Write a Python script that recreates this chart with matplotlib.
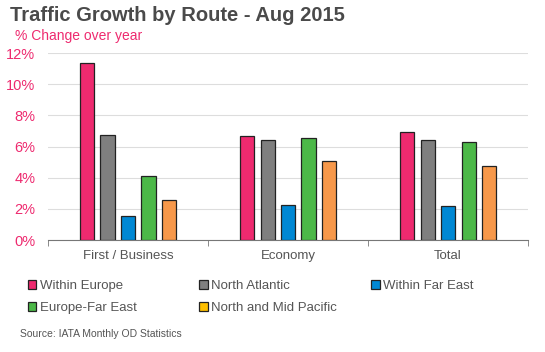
import numpy as np
import matplotlib.pyplot as plt
from matplotlib.patches import Patch
from matplotlib.ticker import FuncFormatter

plt.rcParams['font.family'] = ['Liberation Sans', 'DejaVu Sans']

categories = ['First / Business', 'Economy', 'Total']
routes = ['Within Europe', 'North Atlantic', 'Within Far East',
          'Europe-Far East', 'North and Mid Pacific']
growth = {
    'Within Europe':         [11.35, 6.70, 6.95],
    'North Atlantic':        [6.75, 6.40, 6.45],
    'Within Far East':       [1.55, 2.25, 2.20],
    'Europe-Far East':       [4.10, 6.55, 6.30],
    'North and Mid Pacific': [2.60, 5.05, 4.75],
}
bar_colors = ['#EE2A6F', '#7F7F7F', '#0088D4', '#4CB848', '#F7984A']
legend_colors = ['#EE2A6F', '#7F7F7F', '#0088D4', '#4CB848', '#FFC000']

pink = '#EE2A6F'
text_grey = '#555555'

fig = plt.figure(figsize=(5.45, 3.52), dpi=100)
ax = fig.add_axes([0.088, 0.318, 0.881, 0.531])

x = np.arange(len(categories))
step = 0.128
width = 0.088
for i, r in enumerate(routes):
    vals = np.array(growth[r]) / 100
    ax.bar(x + (i - 2) * step, vals, width, color=bar_colors[i],
           edgecolor='#222222', linewidth=0.9, zorder=3)

ax.set_xlim(-0.5, 2.5)
ax.set_ylim(0, 0.12)
ax.set_yticks(np.arange(0, 0.121, 0.02))
ax.yaxis.set_major_formatter(FuncFormatter(lambda v, p: f'{v*100:.0f}%'))
ax.grid(axis='y', color='#DDDDDD', linewidth=0.8, zorder=0)
for s in ['top', 'right', 'left']:
    ax.spines[s].set_visible(False)
ax.spines['bottom'].set_color('#777777')
ax.tick_params(axis='y', length=0, labelcolor=pink, labelsize=10.5, pad=9)

ax.set_xticks(x)
ax.set_xticklabels(categories, color=text_grey, fontsize=9.5)
ax.tick_params(axis='x', length=0, pad=7)
ax.set_xticks([-0.5, 0.5, 1.5, 2.5], minor=True)
ax.tick_params(axis='x', which='minor', length=4, color='#777777', direction='out')

fig.text(0.018, 0.955, 'Traffic Growth by Route - Aug 2015', fontsize=14.5,
         fontweight='bold', color='#4A4A4A', va='center')
fig.text(0.028, 0.898, '% Change over year', fontsize=10, color=pink, va='center')

handles = [Patch(facecolor=legend_colors[i], edgecolor='#222222', linewidth=0.9)
           for i in range(len(routes))]
columns = [([0, 3], 0.051), ([1, 4], 0.366), ([2], 0.681)]
for idx, xpos in columns:
    fig.legend([handles[i] for i in idx], [routes[i] for i in idx],
               loc='upper left', bbox_to_anchor=(xpos, 0.204),
               frameon=False, fontsize=9.5, handlelength=0.65, handleheight=0.65,
               handletextpad=0.25, labelspacing=0.75,
               labelcolor=text_grey, borderaxespad=0, borderpad=0)

fig.text(0.037, 0.052, 'Source: IATA Monthly OD Statistics', fontsize=7.5,
         color=text_grey, va='center')

fig.savefig('out.png', dpi=100)
